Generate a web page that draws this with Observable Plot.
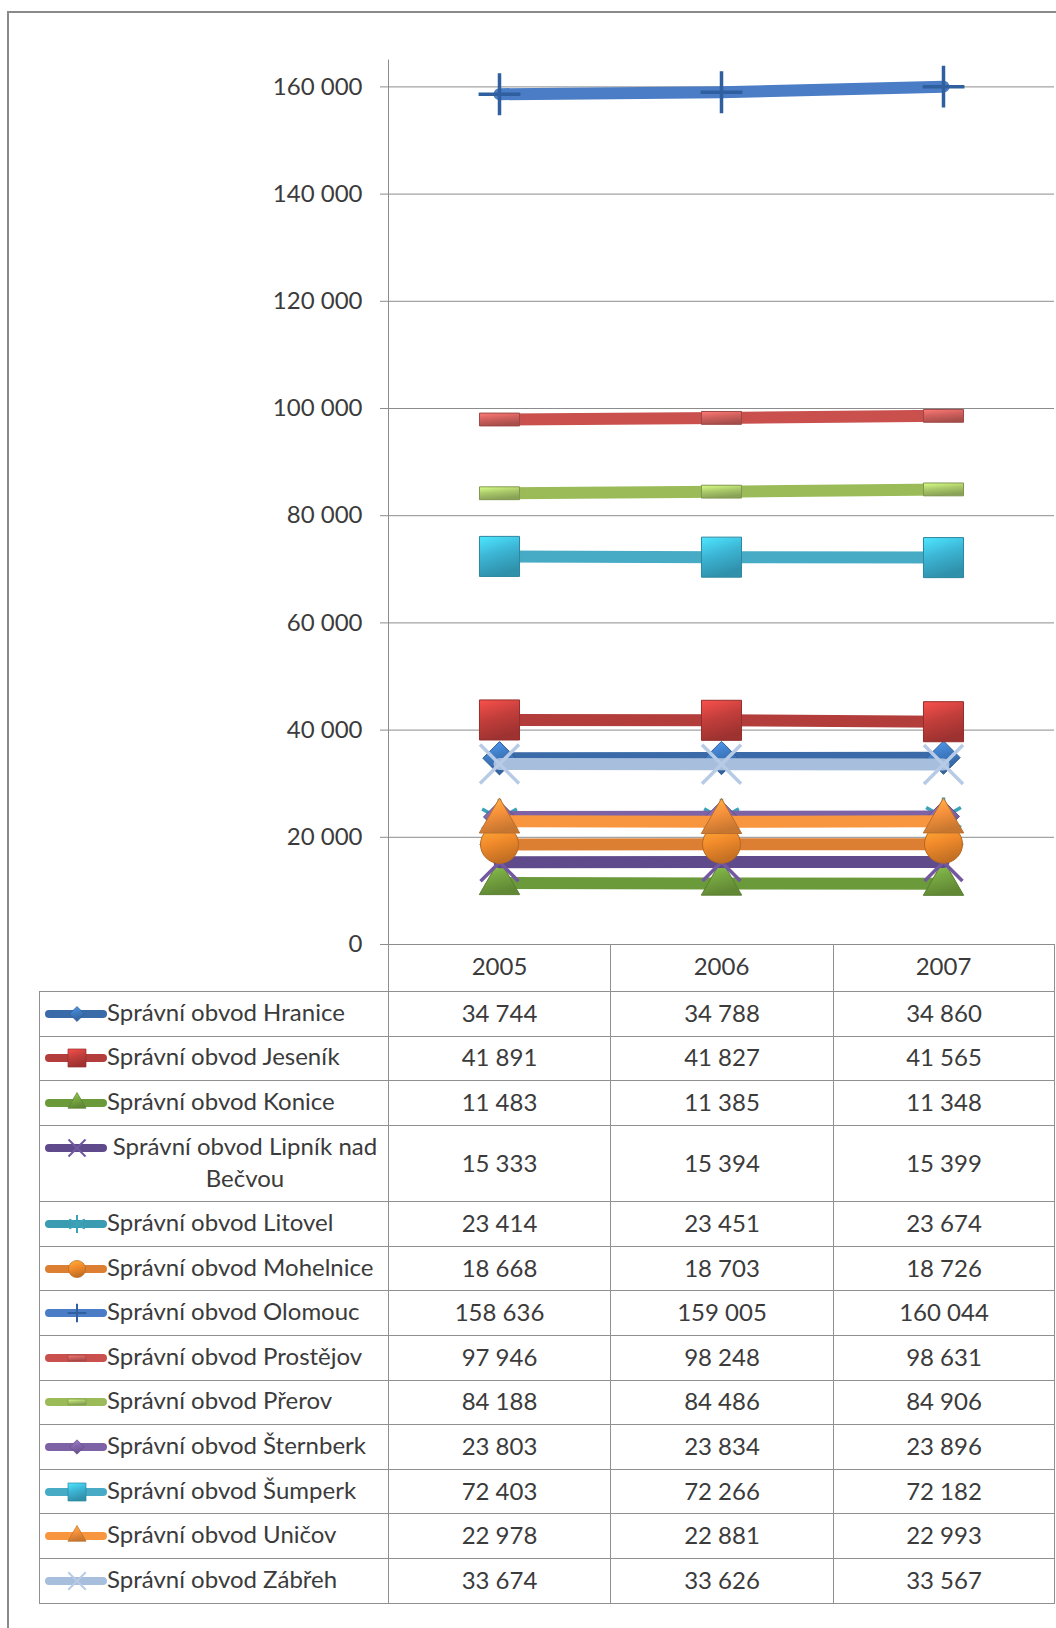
<!DOCTYPE html>
<html><head><meta charset="utf-8">
<script src="https://cdn.jsdelivr.net/npm/d3@7"></script>
<script src="https://cdn.jsdelivr.net/npm/@observablehq/plot@0.6"></script>
<style>
html,body{margin:0;padding:0;background:#fff;overflow:hidden;}
#wrap{position:relative;width:1056px;height:1628px;overflow:hidden;font-family:Lato,"Open Sans",sans-serif;color:#3b3b3b;}
#frame{position:absolute;left:7px;top:11px;width:1200px;height:1800px;border-left:2px solid #8a8a8a;border-top:2px solid #8a8a8a;}
#chart{position:absolute;left:0;top:0;}
#tbl{position:absolute;left:39px;top:944px;border-collapse:collapse;table-layout:fixed;width:1015px;font-size:24px;color:#3b3b3b;}
#tbl td{padding:0 0 3px 0;border:1px solid #909090;text-align:center;vertical-align:middle;white-space:nowrap;}
#tbl td.head{border-top:none;}
#tbl td.blank{border:none;}
#tbl td.name{text-align:left;padding:5.7px 0 5.7px 5px;white-space:normal;}
.nm{display:flex;align-items:flex-start;position:relative;top:-2px;}
.nm span{display:block;line-height:32px;max-width:276px;text-align:center;}
.nm svg{flex:none;position:relative;top:2px;}
</style></head>
<body><div id="wrap"><div id="frame"></div>
<svg id="defs" width="0" height="0" style="position:absolute"></svg>
<div id="chart"></div><table id="tbl"></table></div>
<script>
const years = [2005, 2006, 2007];
const districts = [
  "Správní obvod Hranice",
  "Správní obvod Jeseník",
  "Správní obvod Konice",
  "Správní obvod Lipník nad Bečvou",
  "Správní obvod Litovel",
  "Správní obvod Mohelnice",
  "Správní obvod Olomouc",
  "Správní obvod Prostějov",
  "Správní obvod Přerov",
  "Správní obvod Šternberk",
  "Správní obvod Šumperk",
  "Správní obvod Uničov",
  "Správní obvod Zábřeh"
];
const values2005 = [34744, 41891, 11483, 15333, 23414, 18668, 158636, 97946, 84188, 23803, 72403, 22978, 33674];
const values2006 = [34788, 41827, 11385, 15394, 23451, 18703, 159005, 98248, 84486, 23834, 72266, 22881, 33626];
const values2007 = [34860, 41565, 11348, 15399, 23674, 18726, 160044, 98631, 84906, 23896, 72182, 22993, 33567];
const yTicks = [0, 20000, 40000, 60000, 80000, 100000, 120000, 140000, 160000];

// styles
const lineColors = ["#3a6aa8","#b23d3a","#6b9a3b","#5f4b8b","#3b9bb0","#dc7f33","#4a7dc6","#c9504d","#9bbb59","#7e62a6","#48abc5","#f7963f","#a7bedd"];
const markerColors = ["#3f7bc2","#c23e3b","#78a942","#7358a0","#3aa3b8","#f28b2b","#2f5f9e","#d0605d","#aac96a","#8466ad","#3cb4d4","#f7923b","#b7cbe6"];
const markerSymbols = ["diamond2","square","triangle","times","asterisk","circle","plus","dash","dash","diamond2","square","triangle","times"];
const markerRadius = [15,22.6,15,17.3,19,19,13.5,22.6,22.6,14.4,22.6,15,17.8];

const fmt = d3.formatLocale({decimal: ",", thousands: "\u00a0", grouping: [3], currency: ["", ""]}).format(",");

const dashSymbol = {draw(ctx, size) { const s = Math.sqrt(size); ctx.rect(-s/2, -s*0.16, s, s*0.32); }};
const d3Symbols = {diamond2: d3.symbolDiamond2, square: d3.symbolSquare, triangle: d3.symbolTriangle, times: d3.symbolTimes, asterisk: d3.symbolAsterisk, circle: d3.symbolCircle, plus: d3.symbolPlus, dash: dashSymbol};
const strokeSyms = ["times","asterisk","plus"];

// gradients for 3D-looking markers
const defs = d3.select("#defs").append("defs");
markerColors.forEach((c, i) => {
  const g = defs.append("linearGradient").attr("id", "mg" + i).attr("x1", 0).attr("y1", 0).attr("x2", 0.3).attr("y2", 1);
  g.append("stop").attr("offset", "0%").attr("stop-color", d3.color(c).brighter(0.7).formatHex());
  g.append("stop").attr("offset", "50%").attr("stop-color", c);
  g.append("stop").attr("offset", "100%").attr("stop-color", d3.color(c).darker(0.6).formatHex());
});

const valueCols = [values2005, values2006, values2007];
const rows = districts.flatMap((name, i) => years.map((year, j) => ({name, i, year, value: valueCols[j][i]})));

const marks = [
  Plot.gridY(yTicks, {stroke: "#8c8c8c", strokeOpacity: 1}),
  Plot.axisY(yTicks, {tickSize: 8, tickPadding: 18, tickFormat: fmt, stroke: "#8c8c8c", fill: "#3b3b3b", label: null}),
  Plot.axisX({tickSize: 0, tickPadding: 13, fill: "#3b3b3b", label: null, tickFormat: d => String(d)}),
  Plot.frame({anchor: "left", stroke: "#8c8c8c"})
];
districts.forEach((name, i) => {
  const data = rows.filter(d => d.i === i);
  marks.push(Plot.line(data, {x: "year", y: "value", stroke: lineColors[i], strokeWidth: 12, strokeLinecap: "round"}));
  const sym = markerSymbols[i];
  const isStroke = strokeSyms.includes(sym);
  marks.push(Plot.dot(data, {
    x: "year", y: "value",
    symbol: sym === "dash" ? dashSymbol : sym,
    r: markerRadius[i],
    fill: isStroke ? "none" : `url(#mg${i})`,
    stroke: isStroke ? markerColors[i] : d3.color(markerColors[i]).darker(0.8).formatHex(),
    strokeWidth: isStroke ? 3.5 : 1
  }));
});

const chart = Plot.plot({
  width: 1056, height: 992,
  marginLeft: 388, marginRight: 2, marginTop: 59.6, marginBottom: 48,
  x: {type: "band", domain: years, padding: 0},
  y: {domain: [0, 165000]},
  style: {fontFamily: "Lato, 'Open Sans', sans-serif", fontSize: "24px", background: "transparent", overflow: "visible"},
  marks
});
document.getElementById("chart").append(chart);

// data table with legend keys
const tbl = d3.select("#tbl");
const cg = tbl.append("colgroup");
[349, 222, 223, 221].forEach(w => cg.append("col").style("width", w + "px"));
const hr = tbl.append("tr").style("height", "47.6px");
hr.append("td").attr("class", "blank");
years.forEach(() => hr.append("td").attr("class", "head"));
districts.forEach((name, i) => {
  const tr = tbl.append("tr").style("height", "44.6px");
  const td = tr.append("td").attr("class", "name");
  const nm = td.append("div").attr("class", "nm");
  const sw = nm.append("svg").attr("width", 62).attr("height", 32);
  sw.append("line").attr("x1", 4).attr("x2", 58).attr("y1", 16).attr("y2", 16)
    .attr("stroke", lineColors[i]).attr("stroke-width", 8).attr("stroke-linecap", "round");
  const sym = markerSymbols[i];
  const isStroke = strokeSyms.includes(sym);
  const r = markerRadius[i] * 0.45;
  sw.append("path").attr("transform", "translate(32,16)")
    .attr("d", d3.symbol(d3Symbols[sym], Math.PI * r * r)())
    .attr("fill", isStroke ? "none" : `url(#mg${i})`)
    .attr("stroke", isStroke ? markerColors[i] : d3.color(markerColors[i]).darker(0.8).formatHex())
    .attr("stroke-width", isStroke ? 2 : 0.7);
  nm.append("span").text(name);
  valueCols.forEach(v => tr.append("td").text(fmt(v[i])));
});
</script></body></html>
